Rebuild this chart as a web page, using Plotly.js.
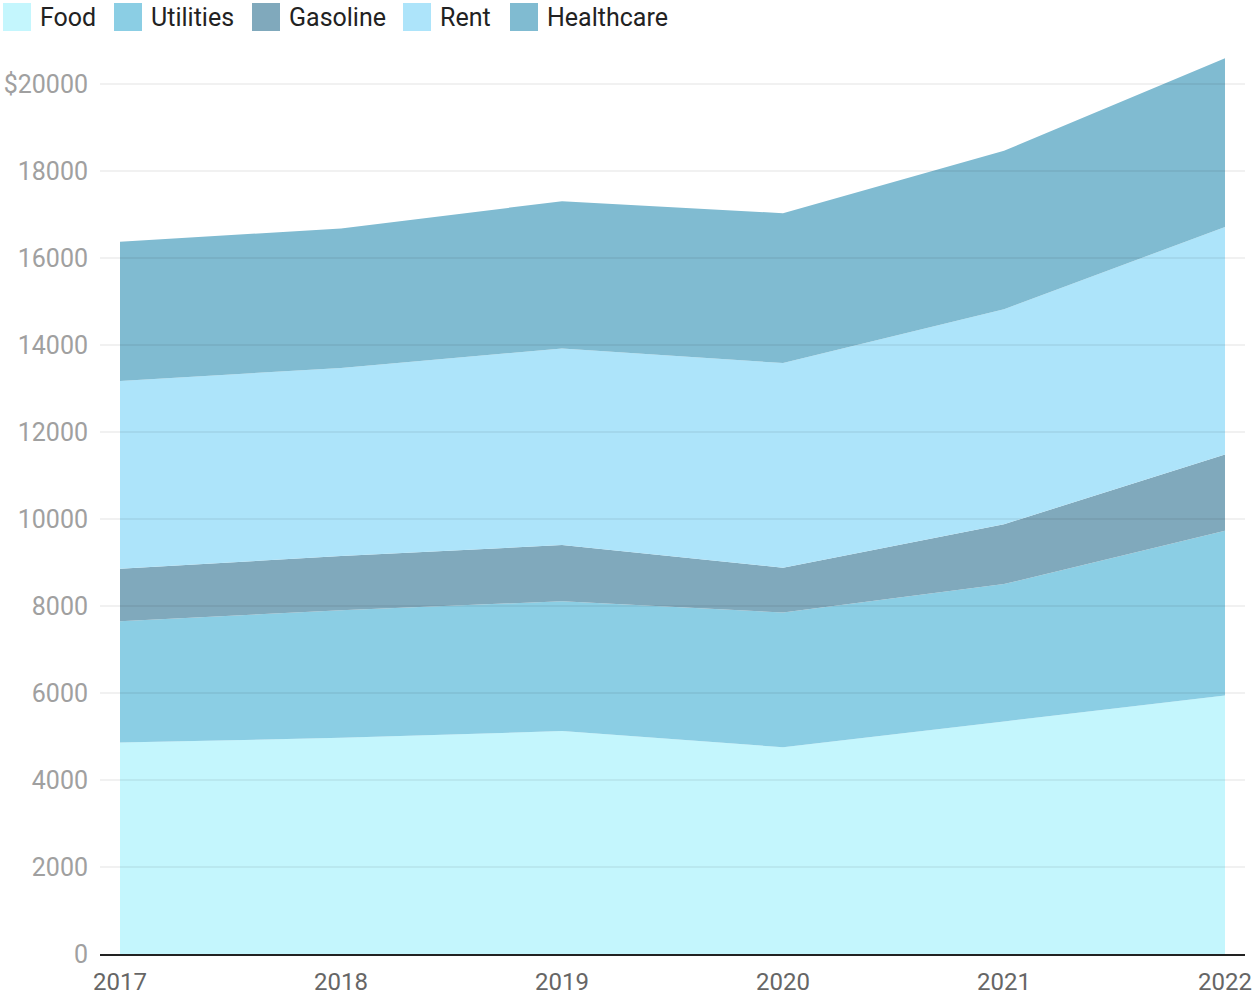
<!DOCTYPE html>
<html>
<head>
<meta charset="utf-8">
<script src="https://cdn.plot.ly/plotly-3.0.1.min.js"></script>
<style>html,body{margin:0;padding:0;background:#fff;}#chart{width:1257px;height:997px;}</style>
</head>
<body>
<div id="chart"></div>
<script>
const years = [2017, 2018, 2019, 2020, 2021, 2022];
const food = [4860, 4970, 5125, 4755, 5345, 5945];
const utilities = [2790, 2935, 2985, 3095, 3160, 3785];
const gasoline = [1205, 1245, 1290, 1030, 1375, 1750];
const rent = [4320, 4320, 4520, 4705, 4940, 5235];
const healthcare = [3200, 3210, 3385, 3445, 3645, 3875];

const seriesNames = ['Food', 'Utilities', 'Gasoline', 'Rent', 'Healthcare'];
const seriesColors = ['#c4f6fd', '#8bcee4', '#80a9bc', '#ade4fa', '#80bbd1'];
const seriesValues = [food, utilities, gasoline, rent, healthcare];

const yTickVals = [0, 2000, 4000, 6000, 8000, 10000, 12000, 14000, 16000, 18000, 20000];
const yTickText = ['0', '2000', '4000', '6000', '8000', '10000', '12000', '14000', '16000', '18000', '$20000'];
const xTickVals = years;
const xTickText = ['2017', '2018', '2019', '2020', '2021', '2022'];

const W = 1257, H = 997;
const M = {l: 100, r: 12, t: 50, b: 43};
const plotW = W - M.l - M.r, plotH = H - M.t - M.b;
const pxX = px => (px - M.l) / plotW;
const pxY = py => (H - M.b - py) / plotH;

const traces = seriesNames.map((name, i) => ({
  type: 'scatter',
  mode: 'lines',
  name: name,
  x: years,
  y: seriesValues[i],
  stackgroup: 'one',
  line: {width: 0, color: seriesColors[i]},
  fillcolor: seriesColors[i],
  showlegend: false,
  hoverinfo: 'x+y+name'
}));

const shapes = [];
const annotations = [];
// grid lines drawn above the areas
yTickVals.filter(v => v > 0).forEach(v => {
  shapes.push({type: 'line', xref: 'paper', yref: 'y', x0: 0, x1: 1, y0: v, y1: v,
    line: {color: 'rgba(0,0,0,0.11)', width: 1}, layer: 'above'});
});
// legend
const legendLeft = [3, 114, 252, 403, 510];
seriesNames.forEach((name, i) => {
  const x0 = legendLeft[i];
  shapes.push({type: 'rect', xref: 'paper', yref: 'paper',
    x0: pxX(x0), x1: pxX(x0 + 28), y0: pxY(31), y1: pxY(3),
    fillcolor: seriesColors[i], line: {width: 0}, layer: 'above'});
  annotations.push({xref: 'paper', yref: 'paper', x: pxX(x0 + 35), y: pxY(18),
    xanchor: 'left', yanchor: 'middle', text: name, showarrow: false,
    font: {family: 'Roboto, sans-serif', size: 25, color: '#222'}});
});

const yMax = plotH / 43.5 * 1000;
const layout = {
  width: W, height: H,
  margin: M,
  paper_bgcolor: '#fff', plot_bgcolor: '#fff',
  showlegend: false,
  font: {family: 'Roboto, sans-serif'},
  xaxis: {
    type: 'linear',
    range: [2017 - 20 / 221, 2022 + 20 / 221],
    tickvals: xTickVals, ticktext: xTickText,
    showgrid: false, zeroline: false,
    showline: true, linecolor: '#222', linewidth: 2,
    ticks: '', ticklabelstandoff: 5,
    tickfont: {family: 'Roboto, sans-serif', size: 24, color: '#666'}
  },
  yaxis: {
    range: [0, yMax],
    tickvals: yTickVals, ticktext: yTickText,
    showgrid: false, zeroline: false, showline: false,
    ticks: '', ticklabelstandoff: 11,
    tickfont: {family: 'Roboto, sans-serif', size: 25, color: '#a0a0a0'}
  },
  shapes: shapes,
  annotations: annotations
};

Plotly.newPlot('chart', traces, layout, {displayModeBar: false, staticPlot: true});
</script>
</body>
</html>
